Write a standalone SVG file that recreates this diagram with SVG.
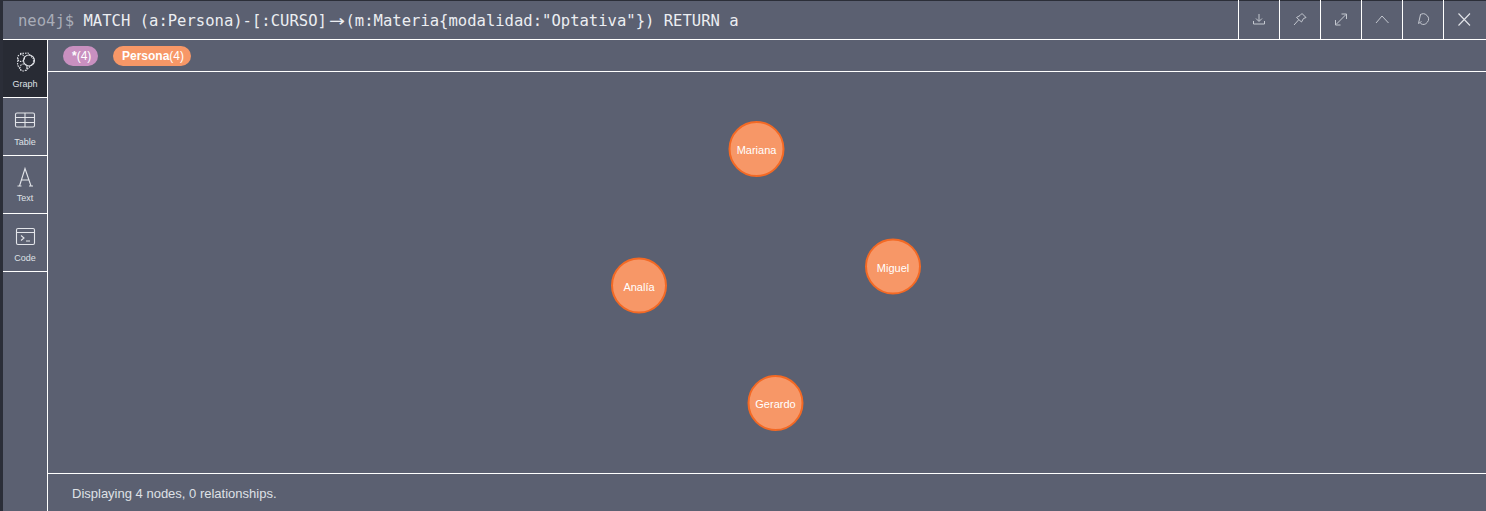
<svg xmlns="http://www.w3.org/2000/svg" width="1486" height="511" viewBox="0 0 1486 511">
<style>
.ln{stroke:#fff;stroke-width:1;fill:none}
.q{font-family:"DejaVu Sans Mono","Liberation Mono",monospace;font-size:15.55px}
.tab{font-family:"Liberation Sans",Arial,sans-serif;font-size:9px;fill:#dfe1e6;text-anchor:middle}
.ic{stroke:#e3e5ea;stroke-width:1.1;fill:none}
.tb{stroke:#c4c8d0;stroke-width:1;fill:none}
.node circle{fill:#f79767;stroke:#f36924;stroke-width:2}
.node text{font-family:"Liberation Sans",Arial,sans-serif;font-size:11px;fill:#fff;text-anchor:middle}
.pill{font-family:"Liberation Sans",Arial,sans-serif;font-size:12px;fill:#fff}
</style>
<rect width="1486" height="511" fill="#5b6071"/>
<rect width="1486" height="1" fill="#2b2e38"/>
<rect x="0" y="0" width="3" height="511" fill="#2b2e38"/>
<rect x="3" y="40" width="44" height="57" fill="#282b34"/>
<g id="chrome">
<path class="ln" d="M3 39.500H1486M47.500 40V511M48 71.500H1486M48 473.500H1486M3 97.500H47M3 155.500H47M3 213.500H47M3 271.500H47M1238.500 0V39M1279.500 0V39M1320.500 0V39M1361.500 0V39M1402.500 0V39M1443.500 0V39"/>
</g>
<g id="query">
<text class="q" x="18" y="26" fill="#a9adb8">neo4j$</text>
<text class="q" y="26" fill="#eceef2"><tspan x="83.500">MATCH (a:Persona)-[:CURSO]</tspan></text>
<text x="329" y="26" fill="#eceef2" font-family="'DejaVu Sans',sans-serif" font-size="15.500px" textLength="16" lengthAdjust="spacingAndGlyphs">→</text>
<text class="q" x="345.500" y="26" fill="#eceef2">(m:Materia{modalidad:"Optativa"}) RETURN a</text>
</g>
<g id="toolbar">
<path class="tb" d="M1259 14V21M1256 18.500L1259 21.500L1262 18.500M1253.500 21V24H1264.500V21"/>
<path class="tb" d="M1302 13.500L1306 17.500L1303.500 18.500L1301.500 22L1296.500 17.500L1300 15.500ZM1298.500 20L1294 25"/>
<path class="tb" d="M1336 24.500L1346 14.500M1341.500 14H1346.500V19M1335.500 20V25H1340.500"/>
<path class="tb" d="M1376 23L1382 16L1388.500 23"/>
<path class="tb" d="M1420 15A5.200 5.200 0 1 1 1420.500 23.500M1421.500 21.500L1418.500 23.500L1420.500 14.500"/>
<path class="ic" d="M1458.500 13.500L1470 25.500M1470 13.500L1458.500 25.500"/>
</g>
<g id="sidebar">
<g id="tab-graph">
<circle class="ic" cx="29" cy="60.500" r="5.500"/>
<circle class="ic" cx="21" cy="58" r="3.500" stroke-dasharray="1.500 1"/>
<circle class="ic" cx="23.500" cy="67.500" r="3.500" stroke-dasharray="1.500 1"/>
<path class="ic" d="M18 58L17.500 65L21 70.500M20 53.500L28 53L33.500 59L33.500 63L26 70.500" stroke-dasharray="1.500 1"/>
<text class="tab" x="25" y="87">Graph</text>
</g>
<g id="tab-table">
<rect class="ic" x="15.500" y="113" width="19" height="14" rx="1.500" stroke-width="1.500"/>
<path class="ic" d="M16 117.500H34M16 122.500H34M25 113V127"/>
<text class="tab" x="25" y="145">Table</text>
</g>
<g id="tab-text">
<path class="ic" d="M17.500 186H21.500M29 186H33M19.500 186L25 168.500L31 186M21 180H29.500"/>
<text class="tab" x="25" y="201">Text</text>
</g>
<g id="tab-code">
<rect class="ic" x="16.500" y="228.500" width="18" height="16" rx="1.500" stroke-width="1.300"/>
<path class="ic" d="M17 232.500H34M21 235.500L24 238L21 240.500M26 241H30"/>
<text class="tab" x="25" y="261">Code</text>
</g>
</g>
<g id="legend">
<rect x="63" y="46" width="35" height="20" rx="10" fill="#c990c0"/>
<text class="pill" x="72" y="60"><tspan font-weight="bold">*</tspan>(4)</text>
<rect x="113" y="46" width="78" height="20" rx="10" fill="#f79767"/>
<text class="pill" x="122" y="60"><tspan font-weight="bold">Persona</tspan>(4)</text>
</g>
<g id="connectors"></g>
<g id="node-mariana" class="node"><circle cx="756.500" cy="149" r="27"/><text x="756.500" y="154">Mariana</text></g>
<g id="node-miguel" class="node"><circle cx="893" cy="266.500" r="27"/><text x="893" y="272">Miguel</text></g>
<g id="node-analia" class="node"><circle cx="639" cy="285.500" r="27"/><text x="639" y="291">Analía</text></g>
<g id="node-gerardo" class="node"><circle cx="775.500" cy="403" r="27"/><text x="775.500" y="408">Gerardo</text></g>
<text x="72" y="498" font-family="'Liberation Sans',Arial,sans-serif" font-size="13px" fill="#dfe1e6">Displaying 4 nodes, 0 relationships.</text>
</svg>
